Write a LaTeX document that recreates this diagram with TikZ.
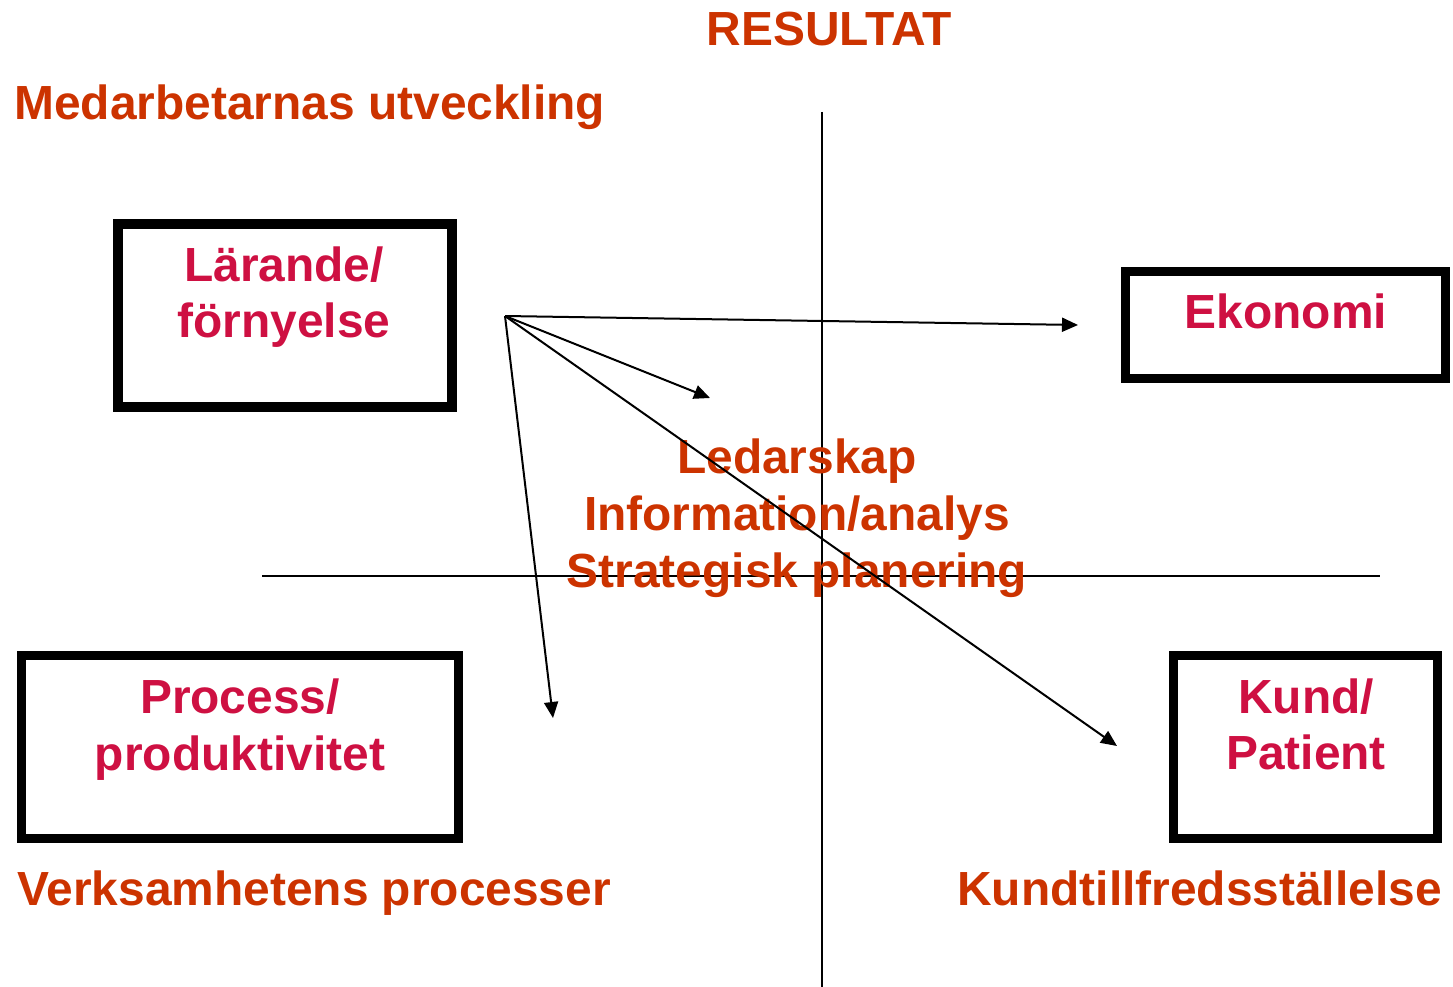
\documentclass[tikz,border=0pt]{standalone}
\usepackage{fontspec}
\setmainfont{Liberation Sans}
\usetikzlibrary{arrows.meta}
\definecolor{orng}{RGB}{204,51,0}
\definecolor{crim}{RGB}{206,16,66}
\begin{document}
\begin{tikzpicture}[x=1pt,y=-1pt,
  lbl/.style={font=\fontsize{47.9}{57}\selectfont\bfseries, inner sep=0pt, anchor=base},
  olbl/.style={lbl, text=orng},
  clbl/.style={lbl, text=crim},
  boxn/.style={draw=black, line width=9.5pt, rectangle, inner sep=0pt},
  axis/.style={line width=2pt},
  arr/.style={line width=2pt, -{Triangle[length=16pt,width=14pt]}}]
\useasboundingbox (0,0) rectangle (1453,987);
% axes
\coordinate (vt) at (822,112); \coordinate (vb) at (822,987);
\coordinate (hl) at (262,576); \coordinate (hr) at (1380,576);
\draw[axis] (vt) -- (vb);
\draw[axis] (hl) -- (hr);
% boxes
\node[boxn, minimum width=334pt, minimum height=183pt] (lar) at (285,315.5) {};
\node[boxn, minimum width=320pt, minimum height=107pt] (eko) at (1285.5,325) {};
\node[boxn, minimum width=437pt, minimum height=183pt] (pro) at (240,747) {};
\node[boxn, minimum width=264pt, minimum height=183pt] (kun) at (1305.5,747) {};
% box texts
\node[clbl] (lar1) at (284,281) {Lärande/};
\node[clbl] (lar2) at (284,337) {förnyelse};
\node[clbl] (eko1) at (1286,328) {Ekonomi};
\node[clbl] (pro1) at (240,713) {Process/};
\node[clbl] (pro2) at (240,770) {produktivitet};
\node[clbl] (kun1) at (1306,713) {Kund/};
\node[clbl] (kun2) at (1306,769) {Patient};
% outer labels
\node[olbl] (res) at (829,46) {RESULTAT};
\node[olbl, anchor=base west] (med) at (14,120) {Medarbetarnas utveckling};
\node[olbl, anchor=base west] (ver) at (17,905) {Verksamhetens processer};
\node[olbl, anchor=base east] (kt) at (1442,905) {Kundtillfredsställelse};
\node[olbl] (led1) at (797,473) {Ledarskap};
\node[olbl] (led2) at (797,530) {Information/analys};
\node[olbl] (led3) at (797,587) {Strategisk planering};
% arrows
\coordinate (src) at (505,316);
\coordinate (e1) at (1078,325);
\coordinate (e2) at (710,398);
\coordinate (e3) at (553,718);
\coordinate (e4) at (1117,746);
\draw[arr] (src) -- (e1);
\draw[arr] (src) -- (e2);
\draw[arr] (src) -- (e3);
\draw[arr] (src) -- (e4);
\end{tikzpicture}
\end{document}
